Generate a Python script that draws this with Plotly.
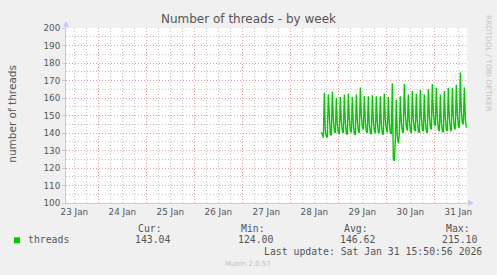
import pandas as pd
import plotly.graph_objects as go

# ---------------- data ----------------
start_time = "2026-01-28 15:30"
step = "30min"
threads = [
    140.5, 138.5, 137.5,
    163.0, 141.0, 138.0, 137.5,
    162.0, 146.0, 139.0, 139.0,
    163.5, 148.0, 141.0, 140.0,
    160.0, 145.0, 140.0, 139.5,
    160.5, 147.0, 141.0, 140.0,
    162.0, 146.0, 140.0, 139.0,
    162.5, 148.0, 141.0, 140.5,
    160.5, 145.0, 139.5, 139.0,
    162.0, 147.0, 141.0, 140.0,
    166.0, 150.0, 143.0, 142.0,
    161.0, 146.0, 141.0, 140.0,
    161.0, 145.0, 140.0, 139.5,
    161.5, 147.0, 141.0, 140.0,
    161.0, 146.0, 140.5, 140.0,
    161.0, 145.0, 140.0, 139.0,
    162.5, 148.0, 141.5, 140.5,
    160.5, 146.0, 140.0, 139.5,
    168.4, 125.0, 124.0, 136.0,
    159.0, 138.0, 134.0, 139.0,
    161.0, 146.0, 141.0, 140.0,
    168.0, 151.0, 143.0, 141.5,
    162.0, 147.0, 141.0, 140.0,
    164.0, 148.0, 142.0, 141.0,
    162.5, 147.0, 141.0, 140.0,
    164.6, 149.0, 142.0, 141.0,
    162.0, 146.0, 141.0, 140.0,
    165.0, 150.0, 143.0, 142.0,
    168.0, 152.0, 145.0, 144.0,
    165.7, 149.0, 142.0, 141.0,
    162.0, 146.0, 141.0, 140.5,
    164.0, 148.0, 142.0, 141.0,
    165.7, 149.0, 142.0, 141.0,
    165.7, 150.0, 143.0, 142.0,
    167.6, 151.0, 144.0, 143.0,
    174.5, 152.0, 146.0, 145.0,
    166.0, 148.0, 143.04,
]
times = pd.date_range(start_time, periods=len(threads), freq=step)

x_range = ["2026-01-23 07:50", "2026-01-31 16:20"]
y_range = [100, 200]

series_name = "threads"
stat_labels = ["Cur:", "Min:", "Avg:", "Max:"]
stat_values = ["143.04", "124.00", "146.62", "215.10"]
title_text = "Number of threads - by week"
y_title = "number of threads"
last_update = "Last update: Sat Jan 31 15:50:56 2026"
footer = "Munin 2.0.57"
side_text = "RRDTOOL / TOBI OETIKER"

# ---------------- layout helpers ----------------
W, H = 497, 275
PL, PR, PT, PB = 66, 467, 28, 203


def px(x):
    return (x - PL) / (PR - PL)


def py(y):
    return (PB - y) / (PB - PT)


LINE_GREEN = "#00cc00"
MAJOR = "#e8a0a0"
MINOR = "#c4c4c4"
AXIS = "#c8c8f4"
TXT = "#555555"
DOTS = "1px,2px"

fig = go.Figure()
fig.add_trace(go.Scatter(
    x=times, y=threads, mode="lines",
    line=dict(color=LINE_GREEN, width=1.4),
    hoverinfo="skip", showlegend=False,
))

fig.update_layout(
    width=W, height=H, autosize=False,
    margin=dict(l=PL, r=W - PR, t=PT, b=H - PB, pad=0),
    paper_bgcolor="#f0f0f0", plot_bgcolor="#ffffff",
    showlegend=False,
    title=dict(text=title_text, x=0.5, xref="container", xanchor="center",
               y=1 - 19 / H, yanchor="middle",
               font=dict(family="DejaVu Sans", size=12, color="#555555")),
)

fig.update_xaxes(
    type="date", range=x_range,
    tick0="2026-01-23 00:00", dtick=86400000,
    ticklabelmode="period", tickformat="%d %b",
    showgrid=True, gridcolor=MAJOR, griddash=DOTS, gridwidth=1,
    minor=dict(dtick=6 * 3600000, showgrid=True, gridcolor=MINOR,
               griddash=DOTS, gridwidth=1),
    showline=True, linecolor=AXIS, linewidth=1,
    ticks="", zeroline=False,
    tickfont=dict(family="DejaVu Sans", size=8.8, color=TXT),
)
fig.update_yaxes(
    range=y_range, dtick=10, tick0=100,
    showgrid=True, gridcolor=MAJOR, griddash=DOTS, gridwidth=1,
    minor=dict(dtick=5, showgrid=True, gridcolor=MINOR, griddash=DOTS,
               gridwidth=1),
    showline=True, linecolor=AXIS, linewidth=1,
    ticks="outside", ticklen=3, tickcolor=AXIS, zeroline=False,
    tickfont=dict(family="DejaVu Sans", size=8.8, color=TXT),
)

ann = []
# y axis title
ann.append(dict(text=y_title, xref="paper", yref="paper", x=px(11.7), y=py(114),
                textangle=-90, showarrow=False, xanchor="center", yanchor="middle",
                font=dict(family="DejaVu Sans", size=10.5, color=TXT)))
# side text
ann.append(dict(text=side_text, xref="paper", yref="paper", x=px(488), y=py(63),
                textangle=90, showarrow=False, xanchor="center", yanchor="middle",
                font=dict(family="DejaVu Sans", size=7.5, color="#c4c4c4")))
# axis arrows
ann.append(dict(text="", xref="paper", yref="paper", x=0, y=py(21),
                ax=0, ay=8, showarrow=True, arrowhead=2, arrowsize=1.2,
                arrowwidth=1, arrowcolor=AXIS))
ann.append(dict(text="", xref="paper", yref="paper", x=px(474), y=0,
                ax=-8, ay=0, showarrow=True, arrowhead=2, arrowsize=1.2,
                arrowwidth=1, arrowcolor=AXIS))

mono = dict(family="DejaVu Sans Mono", size=9.8, color=TXT)
header_x = [150, 253, 356, 458]
value_x = [152.5, 255, 357, 459]
for lab, hx in zip(stat_labels, header_x):
    ann.append(dict(text=lab, xref="paper", yref="paper", x=px(hx), y=py(228.3),
                    showarrow=False, xanchor="center", yanchor="middle", font=mono))
for val, vx in zip(stat_values, value_x):
    ann.append(dict(text=val, xref="paper", yref="paper", x=px(vx), y=py(239.5),
                    showarrow=False, xanchor="center", yanchor="middle", font=mono))
ann.append(dict(text=series_name, xref="paper", yref="paper", x=px(26), y=py(239.5),
                showarrow=False, xanchor="left", yanchor="middle", font=mono))
ann.append(dict(text=last_update, xref="paper", yref="paper", x=px(483.5), y=py(251.7),
                showarrow=False, xanchor="right", yanchor="middle", font=mono))
ann.append(dict(text=footer, xref="paper", yref="paper", x=px(248), y=py(263.5),
                showarrow=False, xanchor="center", yanchor="middle",
                font=dict(family="DejaVu Sans", size=7, color="#c0c0c0")))
fig.update_layout(annotations=ann)

# legend swatch
fig.add_shape(type="rect", xref="paper", yref="paper",
              x0=px(14), x1=px(20), y0=py(243.3), y1=py(237.3),
              fillcolor=LINE_GREEN, line=dict(width=0))

fig.write_html("out.html")
